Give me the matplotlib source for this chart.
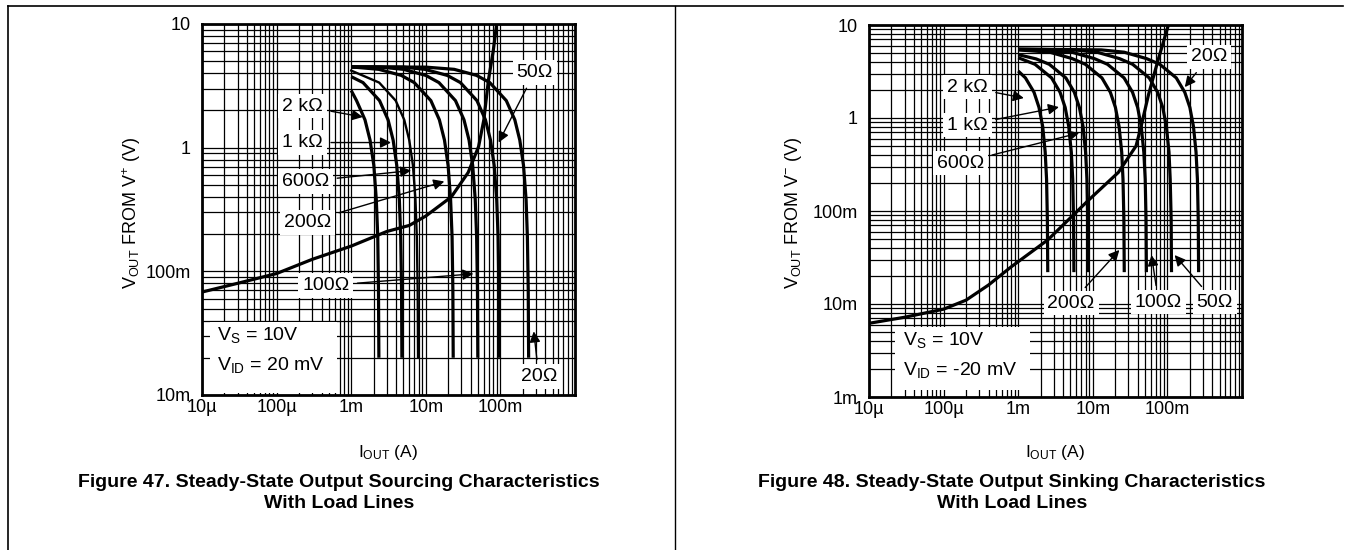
import matplotlib
matplotlib.use('Agg')
import matplotlib.pyplot as plt
from matplotlib.ticker import LogLocator, FixedLocator, FixedFormatter, NullFormatter
from matplotlib.lines import Line2D
from matplotlib.patches import Rectangle

plt.rcParams['font.family'] = ['Liberation Sans', 'DejaVu Sans']
plt.rcParams['mathtext.fontset'] = 'custom'
plt.rcParams['mathtext.rm'] = 'Liberation Sans'
plt.rcParams['mathtext.it'] = 'Liberation Sans:italic'
plt.rcParams['mathtext.bf'] = 'Liberation Sans:bold'
plt.rcParams['mathtext.default'] = 'regular'

# ---- Figure 47: sourcing, I_OUT (A) vs V_OUT from V+ (V) ----
src_2k_i = [1.0e-3, 1.18e-3, 1.53e-3, 1.79e-3, 2.01e-3, 2.17e-3, 2.27e-3, 2.32e-3, 2.35e-3]
src_2k_v = [2.9, 2.4, 1.68, 1.15, 0.72, 0.38, 0.19, 0.072, 0.02]
src_1k_i = [1.0e-3, 1.44e-3, 2.4e-3, 3.12e-3, 3.65e-3, 4.08e-3, 4.42e-3, 4.61e-3, 4.73e-3, 4.78e-3]
src_1k_v = [3.75, 3.36, 2.4, 1.68, 1.15, 0.72, 0.38, 0.19, 0.072, 0.02]
src_600_i = [1.0e-3, 2.37e-3, 3.95e-3, 5.14e-3, 6.0e-3, 6.72e-3, 7.27e-3, 7.58e-3, 7.78e-3, 7.87e-3]
src_600_v = [4.2, 3.36, 2.4, 1.68, 1.15, 0.72, 0.38, 0.19, 0.072, 0.02]
src_200_i = [1.0e-3, 2.34e-3, 4.7e-3, 7.0e-3, 11.7e-3, 15.2e-3, 17.8e-3, 19.9e-3, 21.5e-3, 22.5e-3, 23.05e-3, 23.3e-3]
src_200_v = [4.5, 4.3, 3.84, 3.36, 2.4, 1.68, 1.15, 0.72, 0.38, 0.19, 0.072, 0.02]
src_100_i = [1.0e-3, 2.5e-3, 5e-3, 10e-3, 15e-3, 25e-3, 32.5e-3, 38e-3, 42.5e-3, 46e-3, 48e-3, 49.25e-3, 49.8e-3]
src_100_v = [4.5, 4.48, 4.3, 3.84, 3.36, 2.4, 1.68, 1.15, 0.72, 0.38, 0.19, 0.072, 0.02]
src_50_i = [1.0e-3, 5e-3, 9.7e-3, 19.4e-3, 29.1e-3, 48.5e-3, 63e-3, 73.7e-3, 82.5e-3, 89.2e-3, 93.1e-3, 95.5e-3, 96.6e-3]
src_50_v = [4.5, 4.48, 4.3, 3.84, 3.36, 2.4, 1.68, 1.15, 0.72, 0.38, 0.19, 0.072, 0.02]
src_20_i = [1.0e-3, 10e-3, 24e-3, 48e-3, 72e-3, 120e-3, 156e-3, 182e-3, 204e-3, 221e-3, 230e-3, 236e-3, 239e-3]
src_20_v = [4.5, 4.48, 4.3, 3.84, 3.36, 2.4, 1.68, 1.15, 0.72, 0.38, 0.19, 0.072, 0.02]
# output stage characteristic
src_out_i = [1e-5, 3e-5, 1e-4, 3e-4, 1e-3, 3e-3, 6e-3, 10e-3, 22e-3, 37e-3, 51e-3, 60e-3, 69e-3, 80e-3, 90e-3]
src_out_v = [0.068, 0.08, 0.096, 0.125, 0.16, 0.21, 0.235, 0.28, 0.40, 0.63, 1.02, 1.68, 3.5, 6.0, 10.5]

# ---- Figure 48: sinking, I_OUT (A) vs V_OUT from V- (V) ----
snk_2k_i = [1.0e-3, 1.25e-3, 1.63e-3, 1.9e-3, 2.13e-3, 2.3e-3, 2.4e-3, 2.46e-3, 2.49e-3]
snk_2k_v = [3.2, 2.7, 1.89, 1.3, 0.81, 0.43, 0.22, 0.081, 0.022]
snk_1k_i = [1.0e-3, 1.68e-3, 2.8e-3, 3.64e-3, 4.26e-3, 4.76e-3, 5.15e-3, 5.38e-3, 5.52e-3, 5.58e-3]
snk_1k_v = [4.45, 3.78, 2.7, 1.89, 1.3, 0.81, 0.43, 0.22, 0.081, 0.022]
snk_600_i = [1.0e-3, 1.74e-3, 2.61e-3, 4.35e-3, 5.66e-3, 6.61e-3, 7.4e-3, 8.0e-3, 8.35e-3, 8.57e-3, 8.67e-3]
snk_600_v = [4.8, 4.32, 3.78, 2.7, 1.89, 1.3, 0.81, 0.43, 0.22, 0.081, 0.022]
snk_200_i = [1.0e-3, 2.65e-3, 5.3e-3, 7.95e-3, 13.25e-3, 17.2e-3, 20.1e-3, 22.5e-3, 24.4e-3, 25.4e-3, 26.1e-3, 26.4e-3]
snk_200_v = [5.4, 5.1, 4.35, 3.78, 2.7, 1.89, 1.3, 0.81, 0.43, 0.22, 0.081, 0.022]
snk_100_i = [1.0e-3, 5.25e-3, 10.5e-3, 15.75e-3, 26.25e-3, 34.1e-3, 39.9e-3, 44.6e-3, 48.3e-3, 50.4e-3, 51.7e-3, 52.3e-3]
snk_100_v = [5.45, 5.1, 4.35, 3.78, 2.7, 1.89, 1.3, 0.81, 0.43, 0.22, 0.081, 0.022]
snk_50_i = [1.0e-3, 5.7e-3, 11.4e-3, 22.8e-3, 34.2e-3, 57e-3, 74e-3, 86.6e-3, 96.9e-3, 105e-3, 109e-3, 112.3e-3, 113.5e-3]
snk_50_v = [5.5, 5.4, 5.1, 4.35, 3.78, 2.7, 1.89, 1.3, 0.81, 0.43, 0.22, 0.081, 0.022]
snk_20_i = [1.0e-3, 13e-3, 26.3e-3, 52.6e-3, 79e-3, 131.5e-3, 171e-3, 200e-3, 223.5e-3, 242e-3, 252.5e-3, 259e-3, 262e-3]
snk_20_v = [5.5, 5.4, 5.1, 4.35, 3.78, 2.7, 1.89, 1.3, 0.81, 0.43, 0.22, 0.081, 0.022]
snk_out_i = [1e-5, 3e-5, 1e-4, 2e-4, 4e-4, 8e-4, 2.5e-3, 8.7e-3, 22e-3, 38e-3, 45e-3, 56e-3, 75e-3, 105e-3]
snk_out_v = [0.0062, 0.0072, 0.0088, 0.011, 0.016, 0.025, 0.049, 0.13, 0.26, 0.5, 0.85, 1.8, 4.2, 10.5]

x_ticks = [1e-5, 1e-4, 1e-3, 1e-2, 1e-1]
x_labels = ['10µ', '100µ', '1m', '10m', '100m']
src_y_ticks = [1e-2, 1e-1, 1, 10]
src_y_labels = ['10m', '100m', '1', '10']
snk_y_ticks = [1e-3, 1e-2, 1e-1, 1, 10]
snk_y_labels = ['1m', '10m', '100m', '1', '10']

W, H = 1351, 550
fig = plt.figure(figsize=(W / 100, H / 100), dpi=100)
ax1 = fig.add_axes([202 / W, 1 - 395 / H, 373 / W, 371 / H])
ax2 = fig.add_axes([869 / W, 1 - 397 / H, 373 / W, 372 / H])


def setup(ax, ylim, yticks, ylabels):
    ax.set_xscale('log')
    ax.set_yscale('log')
    ax.set_xlim(1e-5, 1)
    ax.set_ylim(*ylim)
    ax.xaxis.set_major_locator(FixedLocator(x_ticks))
    ax.xaxis.set_major_formatter(FixedFormatter(x_labels))
    ax.yaxis.set_major_locator(FixedLocator(yticks))
    ax.yaxis.set_major_formatter(FixedFormatter(ylabels))
    for a in (ax.xaxis, ax.yaxis):
        a.set_minor_locator(LogLocator(base=10, subs=range(2, 10), numticks=50))
        a.set_minor_formatter(NullFormatter())
    ax.tick_params(which='both', length=0, labelsize=13, colors='black')
    ax.tick_params(axis='y', pad=8)
    ax.tick_params(axis='x', pad=3)
    ax.set_axisbelow(True)
    ax.grid(which='both', color='black', lw=0.9)
    for s in ax.spines.values():
        s.set_linewidth(2)


def label(ax, txt, xy, xytext):
    ax.annotate(txt, xy=xy, xytext=xytext, ha='center', va='center', fontsize=14,
                bbox=dict(boxstyle='square,pad=0.2', fc='white', ec='none'),
                arrowprops=dict(arrowstyle='-|>', color='black', lw=1.0,
                                mutation_scale=16, shrinkA=3, shrinkB=0),
                zorder=6)


setup(ax1, (1e-2, 10), src_y_ticks, src_y_labels)
setup(ax2, (1e-3, 10), snk_y_ticks, snk_y_labels)

lw = 2.3
for i, v in [(src_2k_i, src_2k_v), (src_1k_i, src_1k_v), (src_200_i, src_200_v),
             (src_100_i, src_100_v), (src_50_i, src_50_v), (src_20_i, src_20_v)]:
    ax1.plot(i, v, color='black', lw=lw, solid_capstyle='butt')
ax1.plot(src_600_i, src_600_v, color='black', lw=1.7)
ax1.plot(src_out_i, src_out_v, color='black', lw=lw)

for i, v in [(snk_2k_i, snk_2k_v), (snk_1k_i, snk_1k_v), (snk_600_i, snk_600_v),
             (snk_200_i, snk_200_v), (snk_100_i, snk_100_v), (snk_50_i, snk_50_v),
             (snk_20_i, snk_20_v)]:
    ax2.plot(i, v, color='black', lw=lw, solid_capstyle='butt')
ax2.plot(snk_out_i, snk_out_v, color='black', lw=lw)

# annotations, Figure 47
label(ax1, '2 kΩ', (1.43e-3, 1.77), (2.23e-4, 2.17))
label(ax1, '1 kΩ', (3.42e-3, 1.10), (2.23e-4, 1.10))
label(ax1, '600Ω', (6.36e-3, 0.653), (2.44e-4, 0.533))
label(ax1, '200Ω', (1.77e-2, 0.533), (2.6e-4, 0.25))
label(ax1, '100Ω', (4.35e-2, 0.0955), (4.55e-4, 0.0765))
label(ax1, '50Ω', (9.46e-2, 1.10), (0.289, 4.08))
label(ax1, '20Ω', (0.28, 0.0327), (0.327, 0.0142))
ax1.add_patch(Rectangle((0.021, 0.005), 0.341, 0.192, transform=ax1.transAxes,
                        fc='white', ec='none', zorder=4))
ax1.text(1.59e-5, 0.0304, r'V$_S$ = 10V', fontsize=14, va='center', zorder=6)
ax1.text(1.59e-5, 0.0174, r'V$_{ID}$ = 20 mV', fontsize=14, va='center', zorder=6)

# annotations, Figure 48
label(ax2, '20Ω', (0.171, 2.15), (0.359, 4.53))
label(ax2, '2 kΩ', (1.19e-3, 1.64), (2.09e-4, 2.15))
label(ax2, '1 kΩ', (3.52e-3, 1.31), (2.09e-4, 0.84))
label(ax2, '600Ω', (6.56e-3, 0.69), (1.68e-4, 0.328))
label(ax2, '200Ω', (2.27e-2, 0.0381), (5.12e-3, 0.01025))
label(ax2, '100Ω', (6.12e-2, 0.0336), (7.6e-2, 0.0105))
label(ax2, '50Ω', (0.125, 0.0336), (0.433, 0.0105))
ax2.add_patch(Rectangle((0.07, 0.019), 0.362, 0.169, transform=ax2.transAxes,
                        fc='white', ec='none', zorder=4))
ax2.text(2.87e-5, 0.0041, r'V$_S$ = 10V', fontsize=14, va='center', zorder=6)
ax2.text(2.87e-5, 0.00195, r'V$_{ID}$ = -20 mV', fontsize=14, va='center', zorder=6)

# axis titles
fig.text(388 / W, 1 - 453 / H, r'I$_{OUT}$ (A)', ha='center', va='center', fontsize=12.5)
fig.text(1055 / W, 1 - 453 / H, r'I$_{OUT}$ (A)', ha='center', va='center', fontsize=12.5)
fig.text(132 / W, 1 - 213 / H, r'V$_{OUT}$ FROM V$^{+}$ (V)', ha='center', va='center',
         rotation=90, fontsize=13)
fig.text(793 / W, 1 - 213 / H, r'V$_{OUT}$ FROM V$^{-}$ (V)', ha='center', va='center',
         rotation=90, fontsize=13)

# captions
cap_font = ['Liberation Sans Narrow', 'Liberation Sans']
fig.text(339 / W, 1 - 493 / H,
         'Figure 47. Steady-State Output Sourcing Characteristics\nWith Load Lines',
         ha='center', va='center', fontsize=14, fontweight='bold', family=cap_font,
         linespacing=1.3)
fig.text(1012 / W, 1 - 493 / H,
         'Figure 48. Steady-State Output Sinking Characteristics\nWith Load Lines',
         ha='center', va='center', fontsize=14, fontweight='bold', family=cap_font,
         linespacing=1.3)

# page frame
fig.add_artist(Line2D([8 / W, 1343 / W], [1 - 6 / H, 1 - 6 / H], color='black', lw=1.2))
fig.add_artist(Line2D([8 / W, 8 / W], [0, 1 - 6 / H], color='black', lw=1.2))
fig.add_artist(Line2D([675 / W, 675 / W], [0, 1 - 6 / H], color='black', lw=1.0))

fig.savefig('out.png', dpi=100)
